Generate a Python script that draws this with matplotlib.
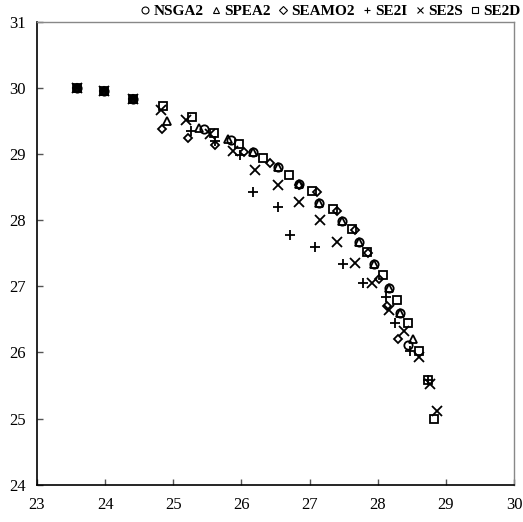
import matplotlib
matplotlib.use("Agg")
import matplotlib.pyplot as plt
from matplotlib.lines import Line2D

plt.rcParams['font.family'] = ['Liberation Serif', 'DejaVu Serif']

nsga2_x = [23.58, 23.98, 24.41, 25.45, 25.85, 26.17, 26.53, 26.85, 27.14, 27.47, 27.72, 27.94, 28.17, 28.32, 28.45]
nsga2_y = [30.00, 29.96, 29.84, 29.39, 29.22, 29.03, 28.81, 28.55, 28.27, 27.99, 27.68, 27.34, 26.97, 26.60, 26.12]

spea2_x = [23.58, 23.98, 24.41, 24.91, 25.37, 25.80, 26.17, 26.53, 26.85, 27.14, 27.47, 27.72, 27.94, 28.17, 28.32, 28.52]
spea2_y = [30.00, 29.96, 29.84, 29.51, 29.40, 29.24, 29.03, 28.81, 28.56, 28.27, 27.99, 27.68, 27.34, 26.98, 26.60, 26.20]

seamo2_x = [23.58, 23.98, 24.41, 24.83, 25.22, 25.61, 26.03, 26.42, 26.85, 27.11, 27.40, 27.66, 27.85, 28.02, 28.14, 28.29]
seamo2_y = [30.00, 29.96, 29.84, 29.38, 29.25, 29.14, 29.03, 28.87, 28.54, 28.43, 28.15, 27.85, 27.50, 27.12, 26.71, 26.21]

se2i_x = [23.58, 23.98, 24.41, 25.26, 25.61, 25.98, 26.17, 26.53, 26.71, 27.08, 27.49, 27.79, 28.12, 28.25, 28.47, 28.73]
se2i_y = [30.00, 29.96, 29.84, 29.36, 29.21, 28.99, 28.43, 28.21, 27.78, 27.60, 27.34, 27.06, 26.84, 26.45, 26.03, 25.58]

se2s_x = [23.58, 23.98, 24.41, 24.82, 25.19, 25.54, 25.88, 26.20, 26.53, 26.85, 27.15, 27.40, 27.67, 27.91, 28.17, 28.39, 28.61, 28.77, 28.87]
se2s_y = [30.00, 29.96, 29.84, 29.68, 29.52, 29.31, 29.06, 28.77, 28.53, 28.28, 28.01, 27.67, 27.36, 27.05, 26.64, 26.32, 25.93, 25.53, 25.11]

se2d_x = [23.58, 23.98, 24.41, 24.85, 25.27, 25.59, 25.97, 26.32, 26.70, 27.03, 27.34, 27.62, 27.84, 28.08, 28.28, 28.45, 28.61, 28.73, 28.83]
se2d_y = [30.00, 29.96, 29.84, 29.73, 29.57, 29.33, 29.16, 28.94, 28.69, 28.45, 28.17, 27.87, 27.52, 27.18, 26.80, 26.44, 26.02, 25.58, 24.99]

labels = ['NSGA2', 'SPEA2', 'SEAMO2', 'SE2I', 'SE2S', 'SE2D']

fig = plt.figure(figsize=(5.23, 5.22), dpi=100)
ax = fig.add_axes([0.0707, 0.0718, 0.9123, 0.8852])

ms = 6
mew = 1.3
series = [
    (nsga2_x, nsga2_y, 'o', labels[0]),
    (spea2_x, spea2_y, '^', labels[1]),
    (seamo2_x, seamo2_y, 'D', labels[2]),
    (se2i_x, se2i_y, '+', labels[3]),
    (se2s_x, se2s_y, 'x', labels[4]),
    (se2d_x, se2d_y, 's', labels[5]),
]
handles = []
for x, y, m, lab in series:
    size = ms * 0.75 if m == 'D' else ms
    if m in ('+', 'x'):
        size = ms + 1
        ax.plot(x, y, linestyle='none', marker=m, markersize=size, color='black',
                markeredgewidth=mew)
    else:
        ax.plot(x, y, linestyle='none', marker=m, markersize=size, markerfacecolor='none',
                markeredgecolor='black', markeredgewidth=mew)
    handles.append(Line2D([], [], linestyle='none', marker=m,
                          markersize=5 if m != 'D' else 4, markerfacecolor='none',
                          markeredgecolor='black', color='black', markeredgewidth=0.8))

ax.set_xlim(23, 30)
ax.set_ylim(24, 31)
ax.set_xticks(range(23, 31))
ax.set_yticks(range(24, 32))
ax.tick_params(direction='in', length=4, width=1, colors='#555555', labelcolor='black',
               labelsize=12, pad=8)
ax.tick_params(axis='x', pad=9)
for s in ['left', 'bottom']:
    ax.spines[s].set_color('black')
    ax.spines[s].set_linewidth(1.2)
for s in ['top', 'right']:
    ax.spines[s].set_color('#888888')
    ax.spines[s].set_linewidth(1.0)

fig.legend(handles, labels, loc='center', bbox_to_anchor=(0.633, 0.978), ncol=6,
           frameon=False, handlelength=0.5, handletextpad=0.3, columnspacing=0.55,
           prop={'weight': 'bold', 'size': 11}, borderpad=0)

fig.savefig('out.png', dpi=100)
